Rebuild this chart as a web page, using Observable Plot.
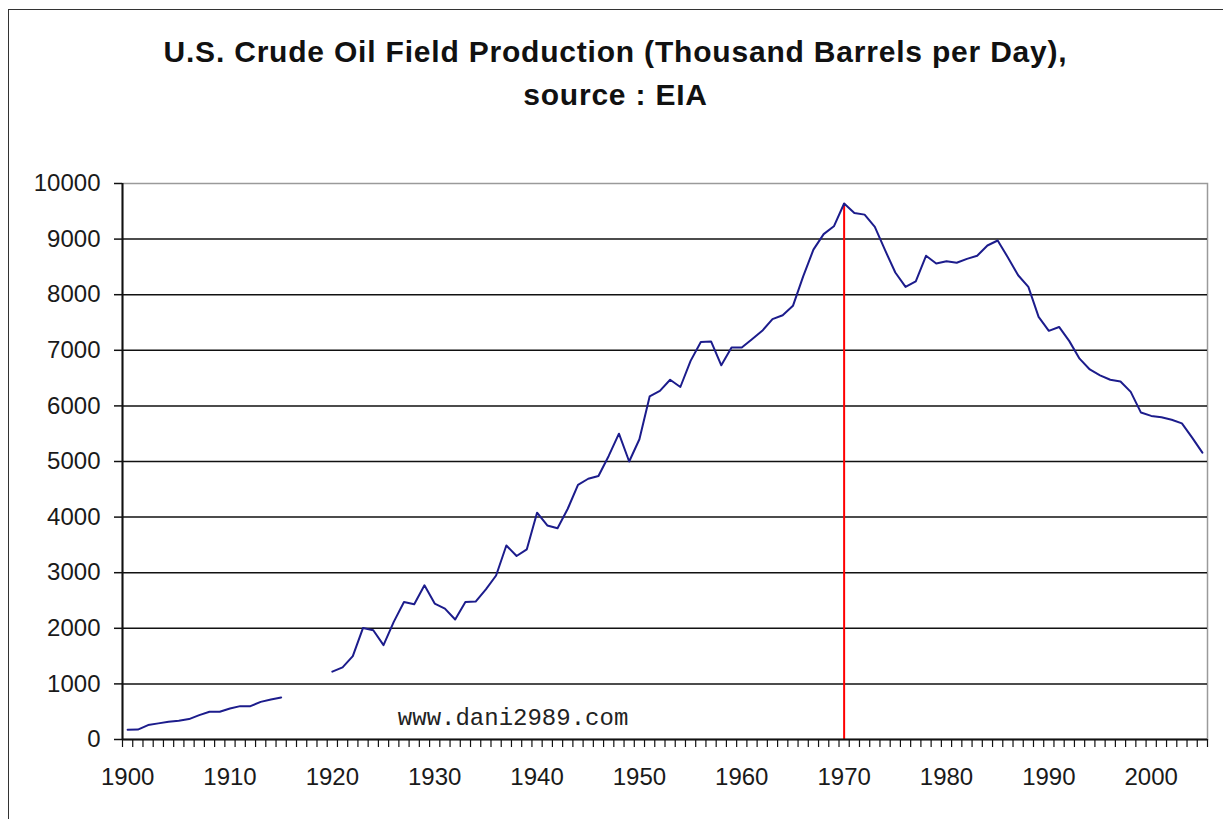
<!DOCTYPE html>
<html>
<head>
<meta charset="utf-8">
<script src="https://cdn.jsdelivr.net/npm/d3@7"></script>
<script src="https://cdn.jsdelivr.net/npm/@observablehq/plot@0.6"></script>
<style>
  html, body { margin: 0; padding: 0; background: #fff; }
  #wrap { position: relative; width: 1223px; height: 819px; overflow: hidden; font-family: "Liberation Sans", Arial, sans-serif; }
  #frame { position: absolute; left: 8px; top: 9px; width: 1400px; height: 1000px; border: 1.5px solid #333; pointer-events: none; z-index: 5; }
  #titles { position: relative; height: 140px; }
  .t { position: absolute; left: 0; width: 1231px; text-align: center; font-weight: bold; font-size: 30px; letter-spacing: 0.8px; color: #111; line-height: 30px; }
  #chart svg { display: block; background: transparent; }
</style>
</head>
<body>
<div id="wrap">
  <div id="frame"></div>
  <div id="titles">
    <div class="t" style="top:37px">U.S. Crude Oil Field Production (Thousand Barrels per Day),</div>
    <div class="t" style="top:80px">source : EIA</div>
  </div>
  <div id="chart"></div>
</div>
<script>
const years = d3.range(1900, 2006);
const production = [
  174, 178, 260, 290, 319, 337, 367, 439, 498, 498,
  558, 600, 600, 677, 720, 756, null, null, null, null,
  1220, 1296, 1499, 2007, 1966, 1697, 2115, 2474, 2433, 2774,
  2445, 2355, 2158, 2474, 2480, 2700, 2950, 3490, 3300, 3420,
  4080, 3850, 3800, 4150, 4580, 4690, 4740, 5100, 5500, 5000,
  5400, 6170, 6270, 6470, 6340, 6810, 7150, 7160, 6730, 7050,
  7050, 7200, 7350, 7560, 7630, 7800, 8330, 8810, 9090, 9230,
  9640, 9470, 9440, 9220, 8800, 8400, 8140, 8240, 8700, 8560,
  8600, 8575, 8645, 8700, 8885, 8975, 8670, 8350, 8140, 7600,
  7350, 7420, 7165, 6850, 6655, 6550, 6470, 6440, 6252, 5880,
  5820, 5795, 5750, 5685, 5430, 5160
];
const yTicks = [0, 1000, 2000, 3000, 4000, 5000, 6000, 7000, 8000, 9000, 10000];
const xLabelTicks = [1900, 1910, 1920, 1930, 1940, 1950, 1960, 1970, 1980, 1990, 2000];
const peakYear = [1970];
const watermark = [{x: 1926.4, y: 400, text: "www.dani2989.com"}];

const data = years.map((year, i) => ({year, value: production[i]}));
const peak = data.filter(d => peakYear.includes(d.year));
const boundaries = d3.range(years[0] - 0.5, years[years.length - 1] + 1, 1);
const grid = yTicks.filter(v => v > 0 && v < 10000);

const plot = Plot.plot({
  width: 1223,
  height: 679,
  marginTop: 43,
  marginBottom: 80,
  marginLeft: 122,
  marginRight: 16,
  style: {background: "transparent", fontFamily: "Liberation Sans, Arial, sans-serif", color: "#1a1a1a"},
  x: {domain: [years[0] - 0.5, years[years.length - 1] + 0.5]},
  y: {domain: [0, 10000]},
  marks: [
    Plot.frame({stroke: "#9a9a9a", strokeWidth: 1.5}),
    Plot.ruleY(grid, {stroke: "#111", strokeWidth: 1.5}),
    Plot.axisY(yTicks, {tickSize: 8, tickPadding: 14, fontSize: 24, tickFormat: d => String(d), stroke: "#111", strokeWidth: 1.5, label: null}),
    Plot.axisX(boundaries, {tickSize: 8, tickFormat: () => "", stroke: "#111", strokeWidth: 1.2, label: null}),
    Plot.axisX(xLabelTicks, {tickSize: 0, tickPadding: 28, fontSize: 24, tickFormat: d => String(d), label: null}),
    Plot.ruleX(peak, {x: "year", y1: 0, y2: "value", stroke: "#ff0000", strokeWidth: 2}),
    Plot.line(data, {x: "year", y: "value", stroke: "#1c1c8c", strokeWidth: 2}),
    Plot.ruleY([0], {stroke: "#111", strokeWidth: 2}),
    Plot.ruleX([years[0] - 0.5], {stroke: "#111", strokeWidth: 2}),
    Plot.text(watermark, {x: "x", y: "y", text: "text", textAnchor: "start", fontFamily: "Courier New, Liberation Mono, monospace", fontSize: 24, fill: "#222"})
  ]
});
document.getElementById("chart").appendChild(plot);
</script>
</body>
</html>
